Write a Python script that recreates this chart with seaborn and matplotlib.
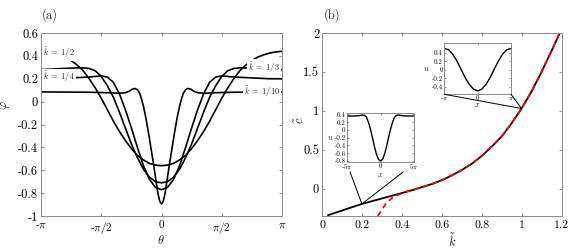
import numpy as np
import pandas as pd
import matplotlib
matplotlib.use("Agg")
import matplotlib.pyplot as plt
from matplotlib.patches import ConnectionPatch
import seaborn as sns

# ---------------- data ----------------
# panel (a): theta in units of pi, profile value
theta_k10 = [-1.0, -0.6, -0.45, -0.35, -0.3, -0.27, -0.24, -0.22, -0.2, -0.18, -0.165, -0.15, -0.13, -0.11,
             -0.09, -0.07, -0.05, -0.03, -0.015, 0.0, 0.015, 0.03, 0.05, 0.07, 0.09, 0.11, 0.13, 0.15, 0.165,
             0.18, 0.2, 0.22, 0.24, 0.27, 0.3, 0.35, 0.45, 0.6, 1.0]
phi_k10 = [0.085, 0.082, 0.078, 0.073, 0.078, 0.09, 0.11, 0.115, 0.105, 0.07, 0.02, -0.04, -0.14, -0.26,
           -0.39, -0.52, -0.66, -0.80, -0.87, -0.895, -0.87, -0.80, -0.66, -0.52, -0.39, -0.26, -0.14, -0.04, 0.02,
           0.07, 0.105, 0.115, 0.11, 0.09, 0.078, 0.073, 0.078, 0.082, 0.085]

theta_k4 = [-1.0, -0.9, -0.8, -0.7, -0.6, -0.55, -0.5, -0.45, -0.4, -0.35, -0.3, -0.25, -0.2, -0.15, -0.1, -0.05,
            0.0, 0.05, 0.1, 0.15, 0.2, 0.25, 0.3, 0.35, 0.4, 0.45, 0.5, 0.55, 0.6, 0.7, 0.8, 0.9, 1.0]
phi_k4 = [0.2, 0.2, 0.205, 0.21, 0.215, 0.22, 0.225, 0.215, 0.17, 0.07, -0.07, -0.23, -0.40, -0.56, -0.68, -0.75,
          -0.77, -0.75, -0.68, -0.56, -0.40, -0.23, -0.07, 0.07, 0.17, 0.215, 0.225, 0.22, 0.215, 0.21, 0.205, 0.2, 0.2]

theta_k3 = [-1.0, -0.9, -0.8, -0.7, -0.65, -0.6, -0.55, -0.5, -0.45, -0.4, -0.35, -0.3, -0.25, -0.2, -0.15, -0.1,
            -0.05, 0.0, 0.05, 0.1, 0.15, 0.2, 0.25, 0.3, 0.35, 0.4, 0.45, 0.5, 0.55, 0.6, 0.65, 0.7, 0.8, 0.9, 1.0]
phi_k3 = [0.28, 0.285, 0.29, 0.295, 0.295, 0.29, 0.27, 0.22, 0.14, 0.04, -0.09, -0.23, -0.37, -0.49, -0.59, -0.66,
          -0.70, -0.71, -0.70, -0.66, -0.59, -0.49, -0.37, -0.23, -0.09, 0.04, 0.14, 0.22, 0.27, 0.29, 0.295, 0.295,
          0.29, 0.285, 0.28]

theta_k2 = [-1.0, -0.95, -0.9, -0.85, -0.8, -0.75, -0.7, -0.65, -0.6, -0.55, -0.5, -0.45, -0.4, -0.35, -0.3, -0.25,
            -0.2, -0.15, -0.1, -0.05, 0.0, 0.05, 0.1, 0.15, 0.2, 0.25, 0.3, 0.35, 0.4, 0.45, 0.5, 0.55, 0.6, 0.65,
            0.7, 0.75, 0.8, 0.85, 0.9, 0.95, 1.0]
phi_k2 = [0.44, 0.435, 0.425, 0.41, 0.39, 0.36, 0.32, 0.27, 0.20, 0.12, 0.03, -0.07, -0.17, -0.26, -0.34, -0.41,
          -0.47, -0.51, -0.54, -0.555, -0.56, -0.555, -0.54, -0.51, -0.47, -0.41, -0.34, -0.26, -0.17, -0.07, 0.03,
          0.12, 0.20, 0.27, 0.32, 0.36, 0.39, 0.41, 0.425, 0.435, 0.44]

curve_labels = [r"$\tilde{k}\;=\;1/10$", r"$\tilde{k}\;=\;1/4$", r"$\tilde{k}\;=\;1/3$", r"$\tilde{k}\;=\;1/2$"]

# panel (b): speed vs wavenumber
k_tilde = [0.03, 0.1, 0.2, 0.3, 0.4, 0.45, 0.5, 0.55, 0.6, 0.65, 0.7, 0.75, 0.8, 0.85, 0.9, 0.95, 1.0,
           1.05, 1.1, 1.15, 1.2]
c_tilde = [-0.34, -0.28, -0.195, -0.125, -0.055, -0.02, 0.02, 0.06, 0.11, 0.17, 0.24, 0.32, 0.42, 0.54, 0.67,
           0.84, 1.03, 1.25, 1.5, 1.77, 2.05]
k_approx = [0.28, 0.3, 0.32, 0.35, 0.38, 0.42, 0.45, 0.5, 0.55, 0.6, 0.65, 0.7, 0.75, 0.8, 0.85, 0.9, 0.95, 1.0,
            1.05, 1.1, 1.15, 1.2]
c_approx = [-0.35, -0.27, -0.19, -0.12, -0.08, -0.04, -0.02, 0.02, 0.06, 0.11, 0.17, 0.24, 0.32, 0.42, 0.54, 0.67,
            0.84, 1.03, 1.25, 1.5, 1.77, 2.05]

# inset profiles (x in units of pi)
x_in1 = [-1.0, -0.875, -0.75, -0.625, -0.5, -0.375, -0.25, -0.125, 0.0, 0.125, 0.25, 0.375, 0.5, 0.625, 0.75,
         0.875, 1.0]
u_in1 = [0.5, 0.47, 0.37, 0.21, 0.02, -0.18, -0.34, -0.45, -0.49, -0.45, -0.34, -0.18, 0.02, 0.21, 0.37, 0.47, 0.5]

x_in2 = [-5.0, -4.0, -3.5, -3.0, -2.7, -2.4, -2.1, -1.8, -1.5, -1.2, -0.9, -0.6, -0.3, 0.0, 0.3, 0.6, 0.9, 1.2,
         1.5, 1.8, 2.1, 2.4, 2.7, 3.0, 3.5, 4.0, 5.0]
u_in2 = [0.36, 0.36, 0.365, 0.375, 0.385, 0.38, 0.33, 0.2, 0.02, -0.2, -0.43, -0.63, -0.76, -0.8, -0.76, -0.63,
         -0.43, -0.2, 0.02, 0.2, 0.33, 0.38, 0.385, 0.375, 0.365, 0.36, 0.36]

# ---------------- style ----------------
sns.set_style("ticks")
plt.rcParams.update({
    "font.family": ["serif"],
    "font.serif": ["cmr10", "DejaVu Serif"],
    "mathtext.fontset": "cm",
    "axes.unicode_minus": False,
    "axes.linewidth": 0.7,
    "axes.edgecolor": "#8a8a8a",
    "xtick.color": "#8a8a8a",
    "ytick.color": "#8a8a8a",
    "xtick.labelcolor": "black",
    "ytick.labelcolor": "black",
    "xtick.direction": "in",
    "ytick.direction": "in",
    "xtick.top": True,
    "ytick.right": True,
    "xtick.major.size": 2.5,
    "ytick.major.size": 2.5,
    "xtick.major.width": 0.6,
    "ytick.major.width": 0.6,
})

fig = plt.figure(figsize=(5.69, 2.5), dpi=100)
W, H = 569.0, 250.0


def fig_rect(x0, y0, x1, y1):
    return [x0 / W, 1 - y1 / H, (x1 - x0) / W, (y1 - y0) / H]


axa = fig.add_axes(fig_rect(41, 33, 282, 216))
axb = fig.add_axes(fig_rect(322, 33, 561.5, 216))

# ---------------- panel (a) ----------------
prof = [(theta_k10, phi_k10), (theta_k4, phi_k4), (theta_k3, phi_k3), (theta_k2, phi_k2)]
for (th, ph), lab in zip(prof, curve_labels):
    df = pd.DataFrame({"theta": np.array(th) * np.pi, "phi": ph})
    sns.lineplot(data=df, x="theta", y="phi", ax=axa, color="black", lw=1.2, sort=False, estimator=None)

axa.set_xlim(-np.pi, np.pi)
axa.set_ylim(-1, 0.6)
axa.set_xticks([-np.pi, -np.pi / 2, 0, np.pi / 2, np.pi])
axa.set_xticklabels([r"-$\pi$", r"-$\pi/2$", "0", r"$\pi/2$", r"$\pi$"], fontsize=8)
axa.set_yticks([0.6, 0.4, 0.2, 0, -0.2, -0.4, -0.6, -0.8, -1])
axa.set_yticklabels(["0.6", "0.4", "0.2", "0", "-0.2", "-0.4", "-0.6", "-0.8", "-1"], fontsize=9)
axa.set_xlabel("")
axa.set_ylabel("")
axa.tick_params(axis="x", pad=3)
axa.tick_params(axis="y", pad=2)

box = dict(boxstyle="square,pad=0.1", fc="white", ec="none")
axa.text(-0.985 * np.pi, 0.43, curve_labels[3], fontsize=6, ha="left", va="center", bbox=box)
axa.text(-0.985 * np.pi, 0.215, curve_labels[1], fontsize=6, ha="left", va="center", bbox=box)
axa.text(0.985 * np.pi, 0.3, curve_labels[2], fontsize=6, ha="right", va="center", bbox=box)
axa.text(0.985 * np.pi, 0.09, curve_labels[0], fontsize=6, ha="right", va="center", bbox=box)

# ---------------- panel (b) ----------------
dfb = pd.DataFrame({"k": k_tilde, "c": c_tilde})
sns.lineplot(data=dfb, x="k", y="c", ax=axb, color="black", lw=1.3, sort=False, estimator=None)
dfr = pd.DataFrame({"k": k_approx, "c": c_approx})
sns.lineplot(data=dfr, x="k", y="c", ax=axb, color="red", lw=1.3, sort=False, estimator=None,
             dashes=False)
axb.lines[-1].set_dashes([3, 2.2])
axb.set_xlim(0, 1.2)
axb.set_ylim(-0.35, 2)
axb.set_xticks([0, 0.2, 0.4, 0.6, 0.8, 1, 1.2])
axb.set_xticklabels(["0", "0.2", "0.4", "0.6", "0.8", "1", "1.2"], fontsize=8.5)
axb.set_yticks([0, 0.5, 1, 1.5, 2])
axb.set_yticklabels(["0", "0.5", "1", "1.5", "2"], fontsize=9)
axb.set_xlabel("")
axb.set_ylabel("")
axb.tick_params(axis="x", pad=3)
axb.tick_params(axis="y", pad=2)

# insets
ax1 = fig.add_axes(fig_rect(444.3, 43.3, 511, 94.3))
df1 = pd.DataFrame({"x": np.array(x_in1) * np.pi, "u": u_in1})
sns.lineplot(data=df1, x="x", y="u", ax=ax1, color="black", lw=1.0, sort=False, estimator=None)
ax1.set_xlim(-np.pi, np.pi)
ax1.set_ylim(-0.57, 0.62)
ax1.set_xticks([-np.pi, 0, np.pi])
ax1.set_xticklabels([r"-$\pi$", "0", r"$\pi$"], fontsize=5)
ax1.set_yticks([0.4, 0.2, 0, -0.2, -0.4])
ax1.set_yticklabels(["0.4", "0.2", "0", "-0.2", "-0.4"], fontsize=5)
ax1.tick_params(length=1.5, pad=1)
ax1.set_xlabel(r"$x$", fontsize=6, labelpad=-1)
ax1.set_ylabel(r"$u$", fontsize=6, labelpad=4, rotation=0, va="center")

ax2 = fig.add_axes(fig_rect(347, 113.3, 414, 161.7))
df2 = pd.DataFrame({"x": np.array(x_in2) * np.pi, "u": u_in2})
sns.lineplot(data=df2, x="x", y="u", ax=ax2, color="black", lw=1.0, sort=False, estimator=None)
ax2.set_xlim(-5 * np.pi, 5 * np.pi)
ax2.set_ylim(-0.82, 0.43)
ax2.set_xticks([-5 * np.pi, 0, 5 * np.pi])
ax2.set_xticklabels([r"-5$\pi$", "0", r"5$\pi$"], fontsize=5)
ax2.set_yticks([0.4, 0.2, 0, -0.2, -0.4, -0.6, -0.8])
ax2.set_yticklabels(["0.4", "0.2", "0", "-0.2", "-0.4", "-0.6", "-0.8"], fontsize=5)
ax2.tick_params(length=1.5, pad=1)
ax2.set_xlabel(r"$x$", fontsize=6, labelpad=-1)
ax2.set_ylabel(r"$u$", fontsize=6, labelpad=3, rotation=0, va="center")

# connectors from insets to the curve
for xa in (0.0, 1.0):
    cp = ConnectionPatch(xyA=(xa, 0.0), coordsA=ax1.transAxes,
                         xyB=(k_tilde[16], c_tilde[16]), coordsB=axb.transData,
                         color="black", lw=0.7)
    fig.add_artist(cp)
for xa in (0.045, 0.84):
    cp = ConnectionPatch(xyA=(xa, -0.21), coordsA=ax2.transAxes,
                         xyB=(k_tilde[2], c_tilde[2]), coordsB=axb.transData,
                         color="black", lw=0.7)
    fig.add_artist(cp)

# labels
fig.text(6 / W, 1 - 105 / H, r"$\varphi$", fontsize=9, rotation=90, ha="center", va="center")
fig.text(300 / W, 1 - 120 / H, r"$\tilde{c}$", fontsize=9, rotation=90, ha="center", va="center")
fig.text(161 / W, 1 - 241 / H, r"$\theta$", fontsize=9, ha="center", va="center")
fig.text(452 / W, 1 - 241 / H, r"$\tilde{k}$", fontsize=9, ha="center", va="center")
fig.text(42 / W, 1 - 15 / H, "(a)", fontsize=9, ha="left", va="center")
fig.text(324 / W, 1 - 15 / H, "(b)", fontsize=9, ha="left", va="center")

fig.savefig("out.png", dpi=100)
